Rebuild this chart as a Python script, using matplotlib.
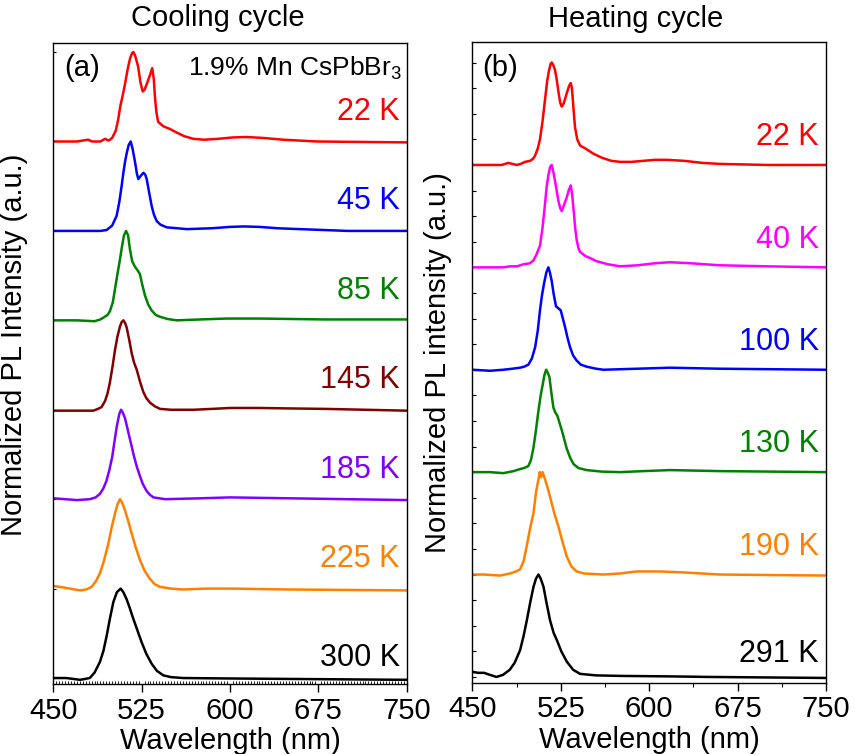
import numpy as np
import matplotlib
matplotlib.use('Agg')
import matplotlib.pyplot as plt
from matplotlib.ticker import MultipleLocator

plt.rcParams['font.family'] = ['Liberation Sans', 'DejaVu Sans']
plt.rcParams['mathtext.default'] = 'regular'

# ---- panel (a): cooling cycle, top to bottom ----
a_labels = ['22 K', '45 K', '85 K', '145 K', '185 K', '225 K', '300 K']
a_colors = ['#ff0000', '#0000ff', '#008000', '#800000', '#8000ff', '#ff8000', '#000000']

a22_wl = [450, 470, 479.5, 483, 490, 494, 497, 500, 503, 505, 507, 509, 511, 513, 515.2, 517, 518, 519.5, 522, 524, 525.9, 527.5, 529.3, 532, 534, 535.3, 536.3, 537.5, 539, 543.4, 549, 554.8, 561, 568.9, 578, 590, 602, 614, 628, 645, 673.6, 750]
a22_pl = [0, 0, 0.02, 0, 0, 0.03, 0.01, 0.04, 0.12, 0.24, 0.4, 0.52, 0.65, 0.8, 0.93, 0.99, 1.0, 0.96, 0.84, 0.66, 0.56, 0.58, 0.64, 0.74, 0.82, 0.7, 0.5, 0.33, 0.22, 0.17, 0.14, 0.10, 0.06, 0.03, 0.02, 0.03, 0.045, 0.05, 0.04, 0.02, 0, -0.01]
a45_wl = [450, 480, 490, 495.3, 500, 503.8, 506, 508, 509.5, 511, 512.5, 514, 515.7, 517.3, 519.4, 521, 522.2, 524.5, 526.5, 528, 529.3, 531.5, 533.5, 535.5, 537.8, 541, 546.3, 555, 563.3, 585, 600, 612, 625, 640, 659.4, 700, 750]
a45_pl = [0, 0, 0, 0.01, 0.06, 0.17, 0.32, 0.5, 0.65, 0.78, 0.88, 0.96, 1.0, 0.92, 0.77, 0.64, 0.58, 0.62, 0.65, 0.63, 0.58, 0.42, 0.28, 0.18, 0.11, 0.07, 0.04, 0.03, 0.02, 0.03, 0.045, 0.05, 0.045, 0.03, 0.02, 0, 0]
a85_wl = [450, 470, 485, 490, 492.5, 496, 498, 500.5, 502.4, 504.5, 506.6, 508, 510, 511.8, 513.5, 515, 517, 519.3, 521.5, 523.5, 525.5, 527.8, 530.5, 533.5, 537, 540.6, 547, 554.8, 575, 597, 625.5, 680, 750]
a85_pl = [0, 0, -0.01, 0.01, 0.03, 0.06, 0.1, 0.2, 0.35, 0.52, 0.68, 0.8, 0.95, 1.0, 0.95, 0.8, 0.66, 0.6, 0.56, 0.52, 0.4, 0.28, 0.18, 0.11, 0.06, 0.04, 0.015, 0, 0.01, 0.02, 0.02, 0.01, 0.01]
a145_wl = [450, 470, 484, 488, 491, 494, 496, 498, 500.5, 502.4, 504.5, 506.6, 508, 509.5, 511, 512.3, 514.5, 516.6, 518.5, 520.8, 523.5, 526.4, 529, 532.1, 536, 540.6, 550, 568.9, 585, 600, 625.5, 650, 680, 750]
a145_pl = [-0.01, -0.01, -0.01, 0.01, 0.03, 0.1, 0.18, 0.3, 0.5, 0.67, 0.82, 0.93, 0.98, 1.0, 0.97, 0.92, 0.78, 0.63, 0.53, 0.45, 0.32, 0.2, 0.13, 0.08, 0.04, 0.01, 0, 0, 0.01, 0.02, 0.02, 0.015, 0.01, -0.01]
a185_wl = [450, 460, 470, 481, 486, 489.6, 492.5, 495, 497.5, 500, 502, 504, 506, 507.5, 509, 511, 513.5, 516, 518.5, 521, 523.5, 526, 529.3, 532, 535, 545, 575, 600, 650, 750]
a185_pl = [0.01, 0, -0.01, 0, 0.02, 0.06, 0.12, 0.2, 0.32, 0.47, 0.65, 0.82, 0.95, 1.0, 0.97, 0.9, 0.76, 0.62, 0.48, 0.36, 0.26, 0.17, 0.09, 0.05, 0.02, 0, 0.01, 0.02, 0.01, -0.01]
a225_wl = [450, 460, 472.7, 478, 482.6, 486, 489.6, 493, 496.7, 499.5, 502.4, 504.5, 506.6, 508.5, 510.8, 513.5, 516.5, 520, 523.6, 527.5, 532, 536, 540.6, 550, 560.4, 580, 602.8, 650, 750]
a225_pl = [0.03, 0.01, -0.02, -0.01, 0.02, 0.08, 0.17, 0.31, 0.5, 0.68, 0.84, 0.94, 1.0, 0.96, 0.88, 0.76, 0.62, 0.46, 0.32, 0.2, 0.11, 0.05, 0.02, 0, -0.01, 0, 0, -0.01, -0.02]
a300_wl = [450, 461, 467, 472.7, 477, 481, 485, 489.6, 492.5, 495.3, 498, 501, 504, 507.2, 509.5, 512.3, 515, 518, 521.5, 525, 529, 533.5, 538, 543.4, 550, 560.4, 600, 650, 750]
a300_pl = [0, 0, -0.01, -0.02, -0.01, 0, 0.06, 0.18, 0.3, 0.47, 0.66, 0.85, 0.96, 1.0, 0.96, 0.88, 0.78, 0.66, 0.53, 0.4, 0.27, 0.16, 0.08, 0.03, 0.01, 0, -0.005, -0.01, -0.02]

# ---- panel (b): heating cycle, top to bottom ----
b_labels = ['22 K', '40 K', '100 K', '130 K', '190 K', '291 K']
b_colors = ['#ff0000', '#ff00ff', '#0000ff', '#008000', '#ff8000', '#000000']

b22_wl = [450, 475, 480.5, 484, 487.7, 491, 494.7, 499, 501.5, 503.2, 505.5, 507.4, 509.5, 511.7, 513.5, 515, 516.5, 517.3, 518.5, 520.1, 521.5, 523, 524.5, 525.8, 527.5, 530.1, 532, 533.5, 534.5, 535.5, 536.3, 537.1, 539, 541.4, 546, 552.7, 560, 568, 575.3, 585, 595, 605, 614.9, 630, 645, 660, 700, 750]
b22_pl = [0, 0, 0.02, 0.01, 0, 0.01, 0.03, 0.04, 0.06, 0.09, 0.16, 0.25, 0.42, 0.64, 0.82, 0.92, 0.99, 1.0, 0.98, 0.93, 0.84, 0.72, 0.61, 0.57, 0.6, 0.7, 0.77, 0.8, 0.75, 0.6, 0.48, 0.37, 0.25, 0.19, 0.16, 0.11, 0.07, 0.04, 0.03, 0.03, 0.04, 0.05, 0.05, 0.04, 0.02, 0.01, 0, 0]
b40_wl = [450, 476.5, 482, 488, 493.3, 499, 502, 504.6, 507.4, 509.5, 511.5, 513, 514.5, 516, 517.3, 518.8, 520.5, 522, 523, 524.5, 525.8, 527.5, 530, 532, 533.5, 534.8, 536, 537.3, 538.5, 540, 541.4, 546, 550, 555.5, 565, 575.3, 590, 605, 617.7, 635, 660, 700, 750]
b40_pl = [0, 0, 0.01, 0.01, 0.03, 0.04, 0.07, 0.13, 0.21, 0.38, 0.6, 0.78, 0.9, 0.98, 1.0, 0.93, 0.82, 0.72, 0.65, 0.58, 0.55, 0.6, 0.68, 0.76, 0.8, 0.7, 0.55, 0.38, 0.27, 0.19, 0.15, 0.11, 0.09, 0.06, 0.03, 0.01, 0.02, 0.04, 0.05, 0.04, 0.02, 0.01, 0]
b100_wl = [450, 465, 476.3, 484, 490.5, 494, 497.6, 500.5, 503.3, 505.5, 507.4, 509, 510.8, 512.8, 514.5, 515.8, 517.3, 519, 521, 523, 525, 526.8, 528.6, 530.8, 532.9, 535.5, 538.5, 542, 547, 555, 561.1, 590, 617.7, 660, 750]
b100_pl = [0, -0.01, 0, 0.01, 0.02, 0.03, 0.05, 0.11, 0.22, 0.38, 0.58, 0.72, 0.84, 0.95, 1.0, 0.95, 0.87, 0.74, 0.62, 0.6, 0.58, 0.5, 0.42, 0.31, 0.22, 0.14, 0.09, 0.05, 0.03, 0.01, 0, 0.01, 0.02, 0.01, 0]
b130_wl = [450, 465, 476.3, 485, 490.5, 494, 497.6, 499.8, 501.9, 504, 506.1, 508, 509.8, 511.2, 512.6, 514, 515.4, 517, 518.8, 520.5, 522.2, 524, 525.9, 528, 530.1, 533, 535.8, 540, 547, 560, 575.3, 595, 617.7, 660, 750]
b130_pl = [0, 0, -0.01, 0.01, 0.03, 0.04, 0.06, 0.12, 0.24, 0.41, 0.6, 0.75, 0.86, 0.95, 1.0, 0.97, 0.93, 0.78, 0.63, 0.58, 0.55, 0.48, 0.41, 0.32, 0.23, 0.14, 0.08, 0.04, 0.02, 0.005, 0, 0.01, 0.02, 0.01, 0]
b190_wl = [450, 460, 473.5, 482, 487, 490.5, 493.5, 496.2, 499, 501.9, 504, 506.1, 507.2, 508.3, 509.6, 511.7, 513.8, 515.9, 519.5, 523, 526.5, 530, 534, 538.5, 545, 561, 575, 589.4, 600, 609.2, 630, 660, 750]
b190_pl = [0, 0, -0.01, 0.01, 0.03, 0.05, 0.13, 0.28, 0.45, 0.6, 0.8, 0.93, 1.0, 0.95, 1.0, 0.93, 0.85, 0.76, 0.6, 0.47, 0.32, 0.18, 0.08, 0.03, 0.01, 0, 0.01, 0.03, 0.03, 0.03, 0.02, 0, -0.01]
b291_wl = [450, 455, 460, 465, 470.5, 476, 481.8, 486, 490.5, 493.5, 496.2, 499, 501.9, 504, 506.1, 508, 510.4, 513, 516, 519, 521.7, 525.5, 530.1, 535.5, 541.4, 555, 575.3, 620, 650, 750]
b291_pl = [0.05, 0.04, 0.04, 0.02, 0, 0.02, 0.07, 0.14, 0.26, 0.4, 0.55, 0.72, 0.88, 0.96, 1.0, 0.96, 0.88, 0.72, 0.55, 0.43, 0.36, 0.25, 0.15, 0.07, 0.03, 0.015, 0.01, 0.005, 0, -0.01]

a_wl = [a22_wl, a45_wl, a85_wl, a145_wl, a185_wl, a225_wl, a300_wl]
a_pl = [a22_pl, a45_pl, a85_pl, a145_pl, a185_pl, a225_pl, a300_pl]
b_wl = [b22_wl, b40_wl, b100_wl, b130_wl, b190_wl, b291_wl]
b_pl = [b22_pl, b40_pl, b100_pl, b130_pl, b190_pl, b291_pl]

fs = 21
fig = plt.figure(figsize=(8.55, 7.54), dpi=100)
ax1 = fig.add_axes([0.0623, 0.0928, 0.4134, 0.850])
ax2 = fig.add_axes([0.5524, 0.0942, 0.4137, 0.850])


def stack(ax, wls, pls, labels, colors, lab_dy):
    n = len(wls)
    for i in range(n):
        off = n - 1 - i
        ax.plot(wls[i], np.array(pls[i]) + off, color=colors[i], lw=1.8,
                solid_joinstyle='round')
        dy = lab_dy if off > 0 else 0.22
        ax.text(744, off + dy, labels[i], color=colors[i], fontsize=22,
                ha='right', va='center')


stack(ax1, a_wl, a_pl, a_labels, a_colors, 0.33)
stack(ax2, b_wl, b_pl, b_labels, b_colors, 0.27)

for ax in (ax1, ax2):
    ax.set_xlim(450, 750)
    ax.xaxis.set_major_locator(MultipleLocator(75))
    ax.tick_params(axis='x', which='major', direction='out', length=6, width=1,
                   labelsize=fs, pad=3)
    ax.set_xlabel('Wavelength (nm)', fontsize=fs, labelpad=1.5)
    ax.set_yticklabels([])
    for s in ax.spines.values():
        s.set_linewidth(1.0)

ax1.set_ylim(-0.067, 7.10)
ax1.yaxis.set_major_locator(MultipleLocator(1))
ax1.tick_params(axis='y', direction='in', length=2, width=0.8)
ax1.xaxis.set_minor_locator(MultipleLocator(2.5))
ax1.tick_params(axis='x', which='minor', direction='in', length=2, width=0.6)
ax1.set_ylabel('Normalized PL Intensity (a.u.)', fontsize=fs)
ax1.yaxis.set_label_coords(-0.072, 0.53)

ax2.set_ylim(-0.059, 6.20)
ax2.yaxis.set_major_locator(MultipleLocator(0.25))
ax2.tick_params(axis='y', direction='in', length=3, width=0.8)
ax2.xaxis.set_minor_locator(MultipleLocator(37.5))
ax2.tick_params(axis='x', which='minor', direction='out', length=3, width=0.8)
ax2.set_ylabel('Normalized PL intensity (a.u.)', fontsize=fs)
ax2.yaxis.set_label_coords(-0.057, 0.5)

ax1.text(0.466, 1.039, 'Cooling cycle', transform=ax1.transAxes, fontsize=fs,
         ha='center', va='center')
ax2.text(0.463, 1.036, 'Heating cycle', transform=ax2.transAxes, fontsize=fs,
         ha='center', va='center')
ax1.text(0.03, 0.961, '(a)', transform=ax1.transAxes, fontsize=fs, va='center')
ax2.text(0.027, 0.959, '(b)', transform=ax2.transAxes, fontsize=fs, va='center')
ax1.text(0.987, 0.961, '1.9% Mn CsPbBr$_3$', transform=ax1.transAxes,
         fontsize=19, ha='right', va='center')

fig.savefig('out.png', dpi=100)
